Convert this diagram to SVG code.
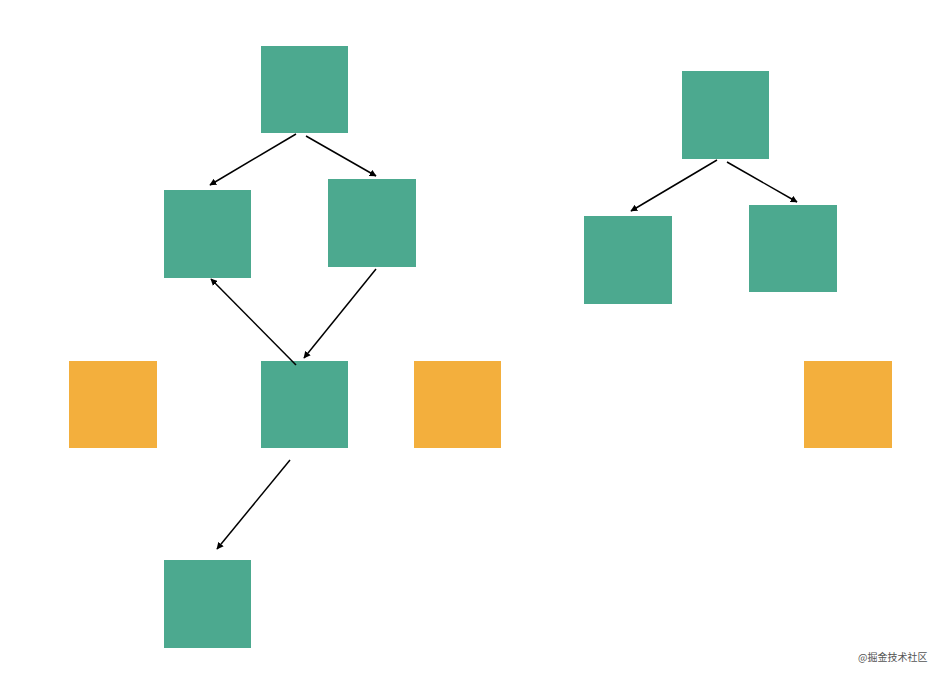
<svg xmlns="http://www.w3.org/2000/svg" width="938" height="674" viewBox="0 0 938 674">
<style>
.g{fill:#4CA98F}.o{fill:#F3AF3D}
.c line{stroke:#000;stroke-width:1.5;marker-end:url(#ah)}
.wm{font-family:"Noto Sans CJK SC",sans-serif;font-size:10px;fill:#555}
</style>
<defs><marker id="ah" viewBox="0 0 10 10" refX="9" refY="5" markerWidth="7" markerHeight="7" orient="auto" markerUnits="userSpaceOnUse"><path d="M0,0L10,5L0,10z" fill="#000"/></marker></defs>
<rect width="938" height="674" fill="#fff"/>
<g id="A"><rect class="g" x="261" y="46" width="87" height="87"/></g>
<g id="B"><rect class="g" x="164" y="190" width="87" height="88"/></g>
<g id="C"><rect class="g" x="328" y="179" width="88" height="88"/></g>
<g id="D"><rect class="g" x="261" y="361" width="87" height="87"/></g>
<g id="E"><rect class="g" x="164" y="560" width="87" height="88"/></g>
<g id="O1"><rect class="o" x="69" y="361" width="88" height="87"/></g>
<g id="O2"><rect class="o" x="414" y="361" width="87" height="87"/></g>
<g id="F"><rect class="g" x="682" y="71" width="87" height="88"/></g>
<g id="G"><rect class="g" x="584" y="216" width="88" height="88"/></g>
<g id="H"><rect class="g" x="749" y="205" width="88" height="87"/></g>
<g id="O3"><rect class="o" x="804" y="361" width="88" height="87"/></g>
<g class="c" id="connectors">
<line x1="296" y1="134" x2="210" y2="185"/>
<line x1="306" y1="136" x2="376" y2="176"/>
<line x1="296" y1="365" x2="211" y2="279"/>
<line x1="376" y1="269" x2="304" y2="358"/>
<line x1="290" y1="460" x2="217" y2="549"/>
<line x1="717" y1="160" x2="631" y2="211"/>
<line x1="727" y1="162" x2="797" y2="202"/>
</g>
<text class="wm" x="858" y="661">@掘金技术社区</text>
</svg>
